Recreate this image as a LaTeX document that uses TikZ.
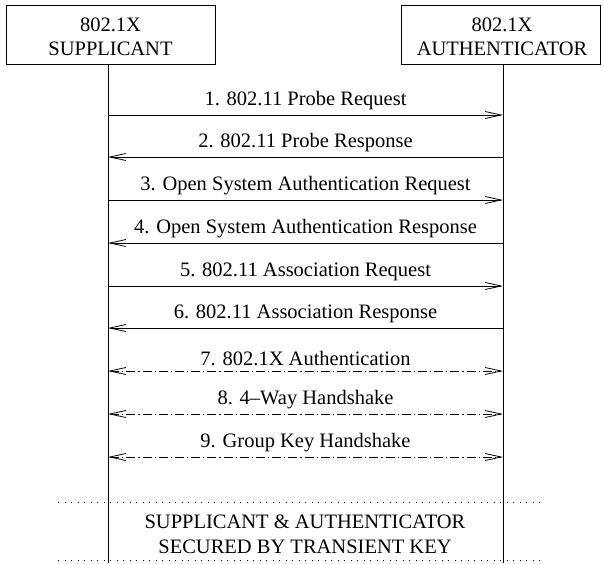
\documentclass[tikz,border=0pt]{standalone}
\usepackage{fontspec}
\setmainfont{Liberation Serif}
\usetikzlibrary{arrows.meta}
\begin{document}
\begin{tikzpicture}[x=1pt,y=-1pt,
  party/.style={draw,line width=0.9pt,minimum width=209pt,minimum height=59pt,inner sep=0pt},
  partytext/.style={align=center,inner sep=0pt,font=\fontsize{20.5}{24}\selectfont},
  lbl/.style={font=\fontsize{20.5}{24}\selectfont,inner sep=0pt},
  life/.style={line width=0.9pt},
  barb/.style={Straight Barb[length=16pt,width=7pt,line width=0.8pt]},
  msg/.style={line width=0.9pt,-{Straight Barb[length=16pt,width=7pt,line width=0.8pt]}},
  hs/.style={line width=0.9pt,{Straight Barb[length=16pt,width=7pt,line width=0.8pt]}-{Straight Barb[length=16pt,width=7pt,line width=0.8pt]},dash pattern=on 9pt off 3pt on 1.2pt off 3pt},
  sep/.style={line width=0.9pt,dash pattern=on 1pt off 5.5pt}]
\useasboundingbox (0,0) rectangle (604,563);
\node[party] (sup) at (110.5,34.5) {};
\node[partytext] (suptxt) at (110.5,37) {802.1X\\SUPPLICANT};
\node[party,minimum width=199pt] (aut) at (500.5,34.5) {};
\node[partytext] (auttxt) at (502,37) {802.1X\\AUTHENTICATOR};
\coordinate (supend) at (108,563);
\coordinate (autend) at (503,563);
\draw[life] (sup.south -| supend) -- (supend);
\draw[life] (aut.south -| autend) -- (autend);
\foreach \i/\y in {1/115,2/157,3/200,4/243,5/286,6/328,7/371,8/414,9/457}{
  \coordinate (L\i) at (108,\y);
  \coordinate (R\i) at (503,\y);
}
\draw[msg] (L1) -- (R1) node[lbl,midway,above=4.5pt] (t1) {1. 802.11 Probe Request};
\draw[msg] (R2) -- (L2) node[lbl,midway,above=4.5pt] (t2) {2. 802.11 Probe Response};
\draw[msg] (L3) -- (R3) node[lbl,midway,above=4.5pt] (t3) {3. Open System Authentication Request};
\draw[msg] (R4) -- (L4) node[lbl,midway,above=4.5pt] (t4) {4. Open System Authentication Response};
\draw[msg] (L5) -- (R5) node[lbl,midway,above=4.5pt] (t5) {5. 802.11 Association Request};
\draw[msg] (R6) -- (L6) node[lbl,midway,above=4.5pt] (t6) {6. 802.11 Association Response};
\draw[hs] (L7) -- (R7) node[lbl,midway,above=4.5pt] (t7) {7. 802.1X Authentication};
\draw[hs] (L8) -- (R8) node[lbl,midway,above=4.5pt] (t8) {8. 4--Way Handshake};
\draw[hs] (L9) -- (R9) node[lbl,midway,above=4.5pt] (t9) {9. Group Key Handshake};
\coordinate (d1a) at (58,502);
\coordinate (d1b) at (545,502);
\coordinate (d2a) at (58,560);
\coordinate (d2b) at (545,560);
\draw[sep] (d1a) -- (d1b);
\draw[sep] (d2a) -- (d2b);
\node[lbl,align=center,font=\fontsize{20.5}{25}\selectfont] (sec) at (305,534) {SUPPLICANT \& AUTHENTICATOR\\SECURED BY TRANSIENT KEY};
\end{tikzpicture}
\end{document}
